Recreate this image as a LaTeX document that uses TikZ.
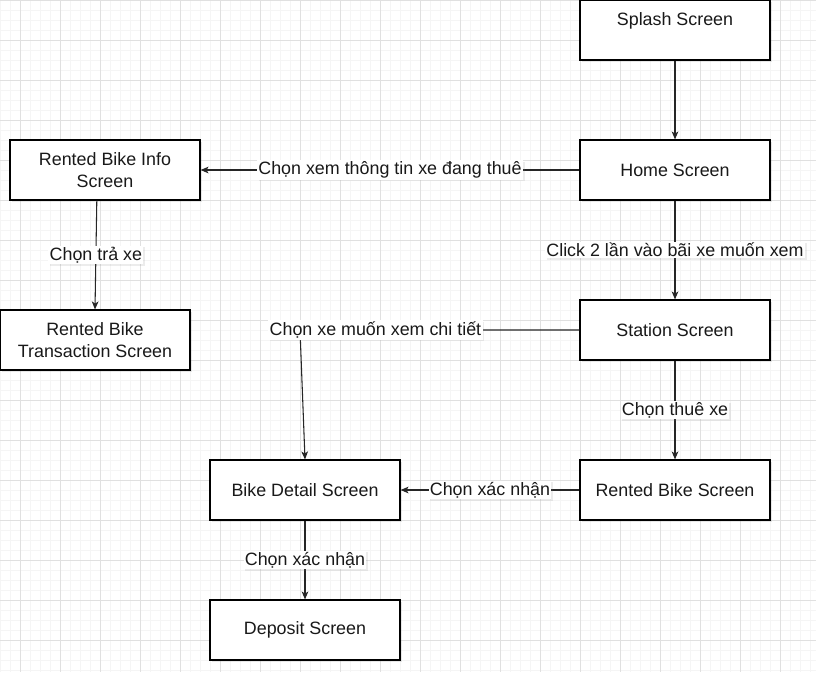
\documentclass[tikz,border=0pt]{standalone}
\usepackage{fontspec}
\setmainfont{Liberation Sans}
\usetikzlibrary{arrows.meta,shadows}
\definecolor{gridminor}{RGB}{245,245,245}
\definecolor{gridmajor}{RGB}{224,224,224}

\begin{document}
\begin{tikzpicture}[x=0.75pt, y=-0.75pt,
	every node/.style={font=\fontsize{13.4}{16.5}\selectfont, align=center, text=black!90},
	screen/.style={rectangle, draw=black, line width=0.85pt, fill=white, minimum width=142.5pt, minimum height=45pt, inner sep=0pt,
		drop shadow={shadow xshift=1.3pt, shadow yshift=-1.3pt, opacity=0.18}},
	lbl/.style={fill=white, inner sep=1pt,
		drop shadow={shadow xshift=1.3pt, shadow yshift=-1.3pt, opacity=0.15}},
	flow/.style={draw=black!85, line width=0.8pt, -{Stealth[length=6pt, width=5pt, inset=1.6pt]}}]
			% background grid
			\useasboundingbox (0,0) rectangle (816,672);
			\fill[white] (0,0) rectangle (816,672);
			\foreach \x in {0,10,...,810} \draw[gridminor, line width=0.6pt] (\x,0) -- (\x,672);
			\foreach \y in {0,10,...,670} \draw[gridminor, line width=0.6pt] (0,\y) -- (816,\y);
			\foreach \x in {20,60,...,800} \draw[gridmajor, line width=0.6pt] (\x,0) -- (\x,672);
			\foreach \y in {0,40,...,670} \draw[gridmajor, line width=0.6pt] (0,\y) -- (816,\y);
			
			\node[screen] (splash) at (675,30){Splash Screen\\ ~};
			\node[screen] (home) at (675,170){Home Screen};
			\node[screen] (info) at (105,170){Rented Bike Info\\Screen};
			\node[screen] (trans) at (95,340){Rented Bike\\Transaction Screen};
			\node[screen] (station) at (675,330){Station Screen};
			\node[screen] (detail) at (305,490){Bike Detail Screen};
			\node[screen] (rented) at (675,490){Rented Bike Screen};
			\node[screen] (deposit) at (305,630){Deposit Screen};
			\coordinate (bend) at (300,330);
			
			\path[flow] (splash) -- (home);
			\path[flow] (home) -- node[lbl]{Chọn xem thông tin xe đang thuê} (info);
			\path[flow] (info.-105) -- node[lbl]{Chọn trả xe} (trans.north);
			\path[flow] (home) -- node[lbl]{Click 2 lần vào bãi xe muốn xem} (station);
			\path[flow] (station.west) -- node[lbl, pos=0.73]{Chọn xe muốn xem chi tiết} (bend) -- (detail.north);
			\path[flow] (station) -- node[lbl]{Chọn thuê xe} (rented);
			\path[flow] (rented) -- node[lbl]{Chọn xác nhận} (detail);
			\path[flow] (detail) -- node[lbl]{Chọn xác nhận} (deposit);
			\end{tikzpicture}
\end{document}
